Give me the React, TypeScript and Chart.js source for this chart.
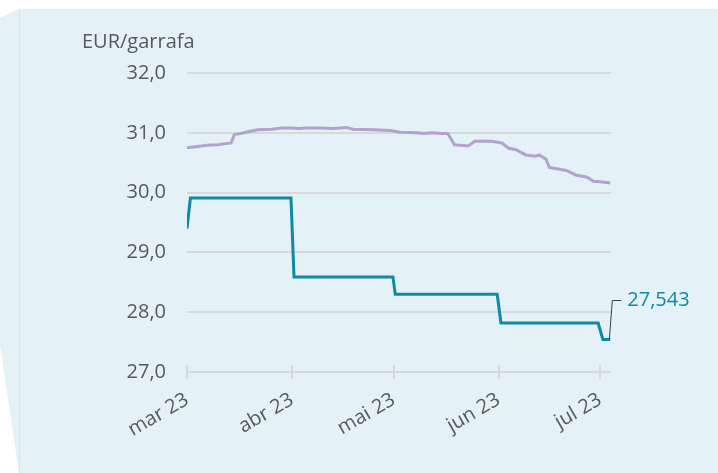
import React, { useEffect, useRef } from 'react';
import { Chart, registerables } from 'chart.js';

Chart.register(...registerables);

// ---- data ----
const unitLabel = 'EUR/garrafa';
const lastLabel = '27,543';
const monthLabels = ['mar 23', 'abr 23', 'mai 23', 'jun 23', 'jul 23'];
const monthDays = [0, 31, 61, 92, 122]; // days since 1 Mar 2023
const yTicks = [27, 28, 29, 30, 31, 32];

const tealDays = [0, 1, 30.7, 31.6, 60.8, 61.5, 91.6, 92.7, 121.4, 122.8, 125];
const tealValues = [29.4, 29.91, 29.91, 28.59, 28.59, 28.3, 28.3, 27.82, 27.82, 27.543, 27.543];

const purpleDays = [0, 3, 6, 9, 13, 14, 16, 19, 21, 25, 28, 31, 33, 35, 40, 43, 47, 49, 55, 60, 63, 68, 70, 72, 75, 77, 79, 83, 85, 90, 93, 95, 97, 100, 103, 104, 106, 107, 110, 112, 115, 118, 120, 122, 125];
const purpleValues = [30.75, 30.77, 30.79, 30.8, 30.83, 30.97, 30.99, 31.03, 31.05, 31.06, 31.08, 31.08, 31.07, 31.08, 31.08, 31.07, 31.09, 31.06, 31.05, 31.04, 31.01, 31.0, 30.99, 31.0, 30.99, 30.99, 30.8, 30.78, 30.86, 30.86, 30.83, 30.74, 30.72, 30.63, 30.61, 30.63, 30.56, 30.42, 30.39, 30.37, 30.29, 30.26, 30.19, 30.18, 30.16];

const TEAL = '#1089a8';
const PURPLE = '#b3a2cd';
const GRID = '#d9d9d9';
const TEXT = '#595959';
const BG = '#e4f1f6';
const FONT = "'Open Sans', 'Noto Sans', sans-serif";
const FS = 20;

const fmt = (v: number) => v.toFixed(1).replace('.', ',');

const decorPlugin = {
  id: 'decor',
  beforeDraw(chart: any) {
    const { ctx, width, height } = chart;
    ctx.save();
    ctx.fillStyle = '#ffffff';
    ctx.fillRect(0, 0, width, height);
    ctx.fillStyle = BG;
    ctx.beginPath();
    ctx.moveTo(0, 18);
    ctx.lineTo(19, 9);
    ctx.lineTo(width, 9);
    ctx.lineTo(width, height);
    ctx.lineTo(19, height);
    ctx.lineTo(0, 345);
    ctx.closePath();
    ctx.fill();
    ctx.strokeStyle = '#d3e6ee';
    ctx.lineWidth = 1;
    ctx.beginPath();
    ctx.moveTo(19.5, 9);
    ctx.lineTo(19.5, height);
    ctx.stroke();
    ctx.restore();
  },
  afterDraw(chart: any) {
    const { ctx, chartArea } = chart;
    const xs = chart.scales.x;
    const ys = chart.scales.y;
    ctx.save();
    // tick marks across the baseline
    ctx.strokeStyle = GRID;
    ctx.lineWidth = 2;
    monthDays.forEach((d) => {
      const px = Math.round(xs.getPixelForValue(d));
      ctx.beginPath();
      ctx.moveTo(px, chartArea.bottom - 7);
      ctx.lineTo(px, chartArea.bottom + 7);
      ctx.stroke();
    });
    // unit title
    ctx.fillStyle = TEXT;
    ctx.font = `${FS}px ${FONT}`;
    ctx.textAlign = 'left';
    ctx.textBaseline = 'middle';
    ctx.fillText(unitLabel, chartArea.left - 105, chartArea.top - 31);
    // last value annotation
    const lx = xs.getPixelForValue(tealDays[tealDays.length - 1]);
    const ly = ys.getPixelForValue(tealValues[tealValues.length - 1]);
    ctx.strokeStyle = '#404040';
    ctx.lineWidth = 1;
    ctx.beginPath();
    ctx.moveTo(lx - 1, ly);
    ctx.lineTo(lx + 2, ly - 39);
    ctx.lineTo(lx + 11, ly - 39);
    ctx.stroke();
    ctx.fillStyle = TEAL;
    ctx.fillText(lastLabel, lx + 17, ly - 39);
    ctx.restore();
  },
};

export default function App() {
  const ref = useRef<HTMLCanvasElement | null>(null);
  useEffect(() => {
    if (!ref.current) return;
    Chart.defaults.font.family = FONT;
    const chart = new Chart(ref.current, {
      type: 'line',
      data: {
        datasets: [
          {
            label: 'purple',
            data: purpleDays.map((d, i) => ({ x: d, y: purpleValues[i] })),
            borderColor: PURPLE,
            borderWidth: 3,
            pointRadius: 0,
            tension: 0,
            fill: false,
          },
          {
            label: 'teal',
            data: tealDays.map((d, i) => ({ x: d, y: tealValues[i] })),
            borderColor: TEAL,
            borderWidth: 3,
            pointRadius: 0,
            tension: 0,
            fill: false,
          },
        ],
      },
      options: {
        responsive: false,
        animation: false,
        layout: { padding: { top: 73, right: 107, left: 0, bottom: 0 } },
        plugins: { legend: { display: false }, tooltip: { enabled: false }, title: { display: false } },
        scales: {
          x: {
            type: 'linear',
            min: 0,
            max: 125.2,
            border: { display: false },
            grid: { display: false },
            afterBuildTicks: (scale: any) => {
              scale.ticks = monthDays.map((v) => ({ value: v }));
            },
            afterFit: (scale: any) => {
              scale.height = 101;
            },
            ticks: {
              autoSkip: false,
              minRotation: 30,
              maxRotation: 30,
              padding: 8,
              color: TEXT,
              font: { size: FS, family: FONT },
              callback: (v: any) => {
                const i = monthDays.indexOf(Number(v));
                return i >= 0 ? monthLabels[i] : '';
              },
            },
          },
          y: {
            min: 27,
            max: 32,
            border: { display: false },
            grid: { color: GRID, lineWidth: 2, drawTicks: false },
            afterBuildTicks: (scale: any) => {
              scale.ticks = yTicks.map((v) => ({ value: v }));
            },
            afterFit: (scale: any) => {
              scale.width = 187;
            },
            ticks: {
              padding: 21,
              color: TEXT,
              font: { size: FS, family: FONT },
              callback: (v: any) => fmt(Number(v)),
            },
          },
        },
      },
      plugins: [decorPlugin],
    } as any);
    return () => chart.destroy();
  }, []);
  return (
    <div style={{ position: 'fixed', left: 0, top: 0, width: 718, height: 473 }}>
      <canvas ref={ref} width={718} height={473} style={{ display: 'block' }} />
    </div>
  );
}
